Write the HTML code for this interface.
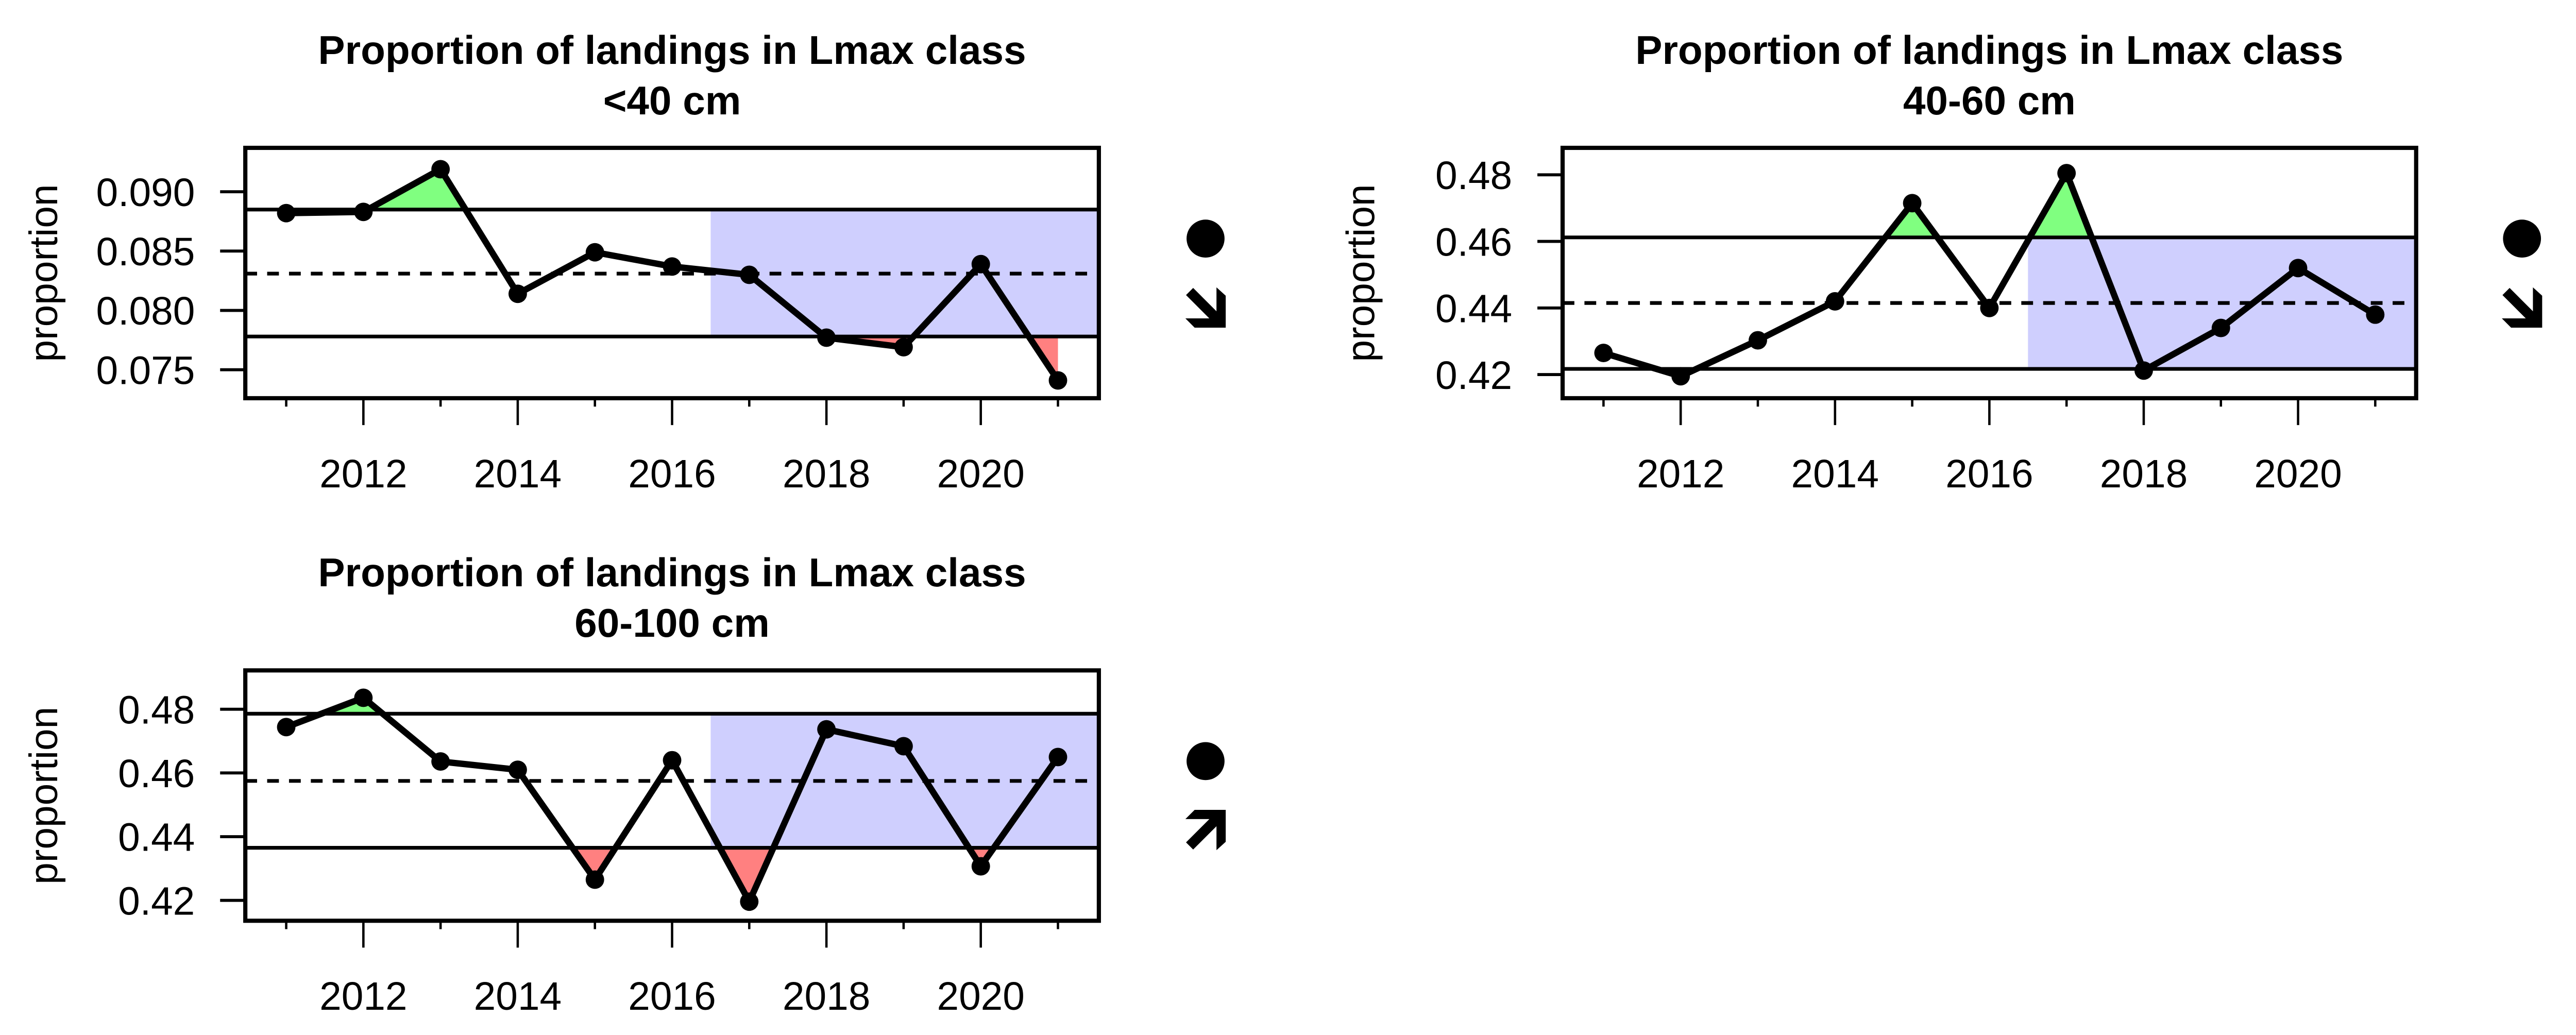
<!DOCTYPE html>
<html><head><meta charset="utf-8"><style>
html,body{margin:0;padding:0;background:#fff}
svg{display:block}
text{font-family:"Liberation Sans",Arial,sans-serif;fill:#000}
</style></head><body>
<svg id="chart" width="5055" height="2009" viewBox="0 0 1550 616" preserveAspectRatio="none" xmlns="http://www.w3.org/2000/svg"></svg>
<script>
const years = [2011,2012,2013,2014,2015,2016,2017,2018,2019,2020,2021];
const seriesLt40 = [0.0882,0.0883,0.0919,0.0814,0.0849,0.0837,0.0830,0.0777,0.0769,0.0839,0.0741];
const series40to60 = [0.4265,0.4195,0.4303,0.4420,0.4715,0.4400,0.4805,0.4212,0.4340,0.4520,0.4380];
const series60to100 = [0.4744,0.4836,0.4636,0.4610,0.4265,0.4640,0.4196,0.4737,0.4684,0.4307,0.4650];
const thresholdsLt40 = [0.0778,0.0831,0.0885];
const thresholds40to60 = [0.4217,0.4415,0.4612];
const thresholds60to100 = [0.4365,0.4575,0.4786];
const yTicksLt40 = ["0.075","0.080","0.085","0.090"];
const yTicks40to60 = ["0.42","0.44","0.46","0.48"];
const yTicks60to100 = ["0.42","0.44","0.46","0.48"];
const xTickLabels = ["2012","2014","2016","2018","2020"];
const subtitles = ["<40 cm","40-60 cm","60-100 cm"];
const trends = ["down","down","up"];

const NS="http://www.w3.org/2000/svg";
const svg=document.getElementById('chart');
function mk(tag,attrs,parent){const e=document.createElementNS(NS,tag);for(const k in attrs)e.setAttribute(k,attrs[k]);(parent||svg).appendChild(e);return e;}

const panels=[
 {x0:146,x1:654,y0:88,y1:237,ymin:0.0726,ymax:0.0937,data:seriesLt40,th:thresholdsLt40,ticks:yTicksLt40,sub:subtitles[0],tr:trends[0],ix:710.5,iy:140,key:'lt40'},
 {x0:930,x1:1438,y0:88,y1:237,ymin:0.4129,ymax:0.4881,data:series40to60,th:thresholds40to60,ticks:yTicks40to60,sub:subtitles[1],tr:trends[1],ix:1494,iy:140,key:'40-60'},
 {x0:146,x1:654,y0:399,y1:548,ymin:0.4136,ymax:0.4922,data:series60to100,th:thresholds60to100,ticks:yTicks60to100,sub:subtitles[2],tr:trends[2],ix:710.5,iy:451,key:'60-100'}
];

panels.forEach((p,pi)=>{
  const g=mk('g',{});
  
  
  const yrMin=2010.47, yrMax=2021.53;
  const sx=v=>p.x0+(v-yrMin)/(yrMax-yrMin)*(p.x1-p.x0);
  const sy=v=>p.y1-(v-p.ymin)/(p.ymax-p.ymin)*(p.y1-p.y0);
  const cid='clip'+pi;
  const defs=mk('defs',{},g);
  const cpA=mk('clipPath',{id:cid+'a'},defs);
  mk('rect',{x:p.x0,y:p.y0,width:p.x1-p.x0,height:sy(p.th[2])-p.y0},cpA);
  const cpB=mk('clipPath',{id:cid+'b'},defs);
  mk('rect',{x:p.x0,y:sy(p.th[0]),width:p.x1-p.x0,height:p.y1-sy(p.th[0])},cpB);
  const br=mk('rect',{x:sx(2016.5),y:sy(p.th[2]),width:p.x1-sx(2016.5),height:sy(p.th[0])-sy(p.th[2]),fill:'#cfcffe'},g);
  
  
  const pts=years.map((y,i)=>sx(y)+','+sy(p.data[i]));
  const up=mk('polygon',{points:pts.join(' ')+' '+sx(years[years.length-1])+','+sy(p.th[2])+' '+sx(years[0])+','+sy(p.th[2]),fill:'#80ff80','clip-path':'url(#'+cid+'a)'},g);
  
  
  const dn=mk('polygon',{points:pts.join(' ')+' '+sx(years[years.length-1])+','+sy(p.th[0])+' '+sx(years[0])+','+sy(p.th[0]),fill:'#ff8080','clip-path':'url(#'+cid+'b)'},g);
  
  
  const l1=mk('line',{x1:p.x0,x2:p.x1,y1:sy(p.th[0]),y2:sy(p.th[0]),stroke:'#000','stroke-width':2.2},g);
  
  
  const l2=mk('line',{x1:p.x0,x2:p.x1,y1:sy(p.th[2]),y2:sy(p.th[2]),stroke:'#000','stroke-width':2.2},g);
  
  
  const l3=mk('line',{x1:p.x0,x2:p.x1,y1:sy(p.th[1]),y2:sy(p.th[1]),stroke:'#000','stroke-width':2.2,'stroke-dasharray':'7,6'},g);
  
  
  const pl=mk('polyline',{points:pts.join(' '),fill:'none',stroke:'#000','stroke-width':3.8,'stroke-linejoin':'round'},g);
  
  
  years.forEach((y,i)=>{
    const c=mk('circle',{cx:sx(y),cy:sy(p.data[i]),r:5.5,fill:'#000'},g);
    
    
  });
  const bx=mk('rect',{x:p.x0,y:p.y0,width:p.x1-p.x0,height:p.y1-p.y0,fill:'none',stroke:'#000','stroke-width':2.5},g);
  
  
  years.forEach(y=>{
    const major=(y%2===0);
    const t=mk('line',{x1:sx(y),x2:sx(y),y1:p.y1+1,y2:p.y1+(major?16:5),stroke:'#000','stroke-width':1.4},g);
    
    
  });
  xTickLabels.forEach(l=>{
    const t=mk('text',{x:sx(+l),y:p.y1+53,'font-size':23.5,'text-anchor':'middle'},g);
    t.textContent=l;
    
    
  });
  p.ticks.forEach(l=>{
    const yy=sy(+l);
    const t=mk('line',{x1:p.x0-15,x2:p.x0,y1:yy,y2:yy,stroke:'#000','stroke-width':1.8},g);
    
    
    const tx=mk('text',{x:p.x0-30,y:yy+8.5,'font-size':23.5,'text-anchor':'end'},g);
    tx.textContent=l;
    
    
  });
  const yl=mk('text',{x:0,y:0,'font-size':23.5,'text-anchor':'middle',transform:'translate('+(p.x0-112)+','+((p.y0+p.y1)/2)+') rotate(-90)'},g);
  yl.textContent='proportion';
  
  
  const cx=(p.x0+p.x1)/2;
  const t1=mk('text',{x:cx,y:p.y0-50,'font-size':24,'font-weight':'bold','text-anchor':'middle'},g);
  t1.textContent='Proportion of landings in Lmax class';
  
  
  const t2=mk('text',{x:cx,y:p.y0-20,'font-size':24,'font-weight':'bold','text-anchor':'middle'},g);
  t2.textContent=p.sub;
  
  
  const dot=mk('circle',{cx:p.ix+7,cy:p.iy+2,r:11.3,fill:'#000'},g);
  
  
  const ag=mk('g',{transform:p.tr==='down'?'translate('+(p.ix-5)+','+(p.iy+31)+')':'translate('+(p.ix-5)+','+(p.iy+31+24)+') scale(1,-1)'},g);
  
  
  mk('line',{x1:2.5,y1:2.5,x2:19,y2:19,stroke:'#000','stroke-width':6},ag);
  mk('polygon',{points:'18.5,0 24,5 24,24 5.5,24 0,18.5 18.5,18.5',fill:'#000'},ag);
});
</script>
</body></html>
